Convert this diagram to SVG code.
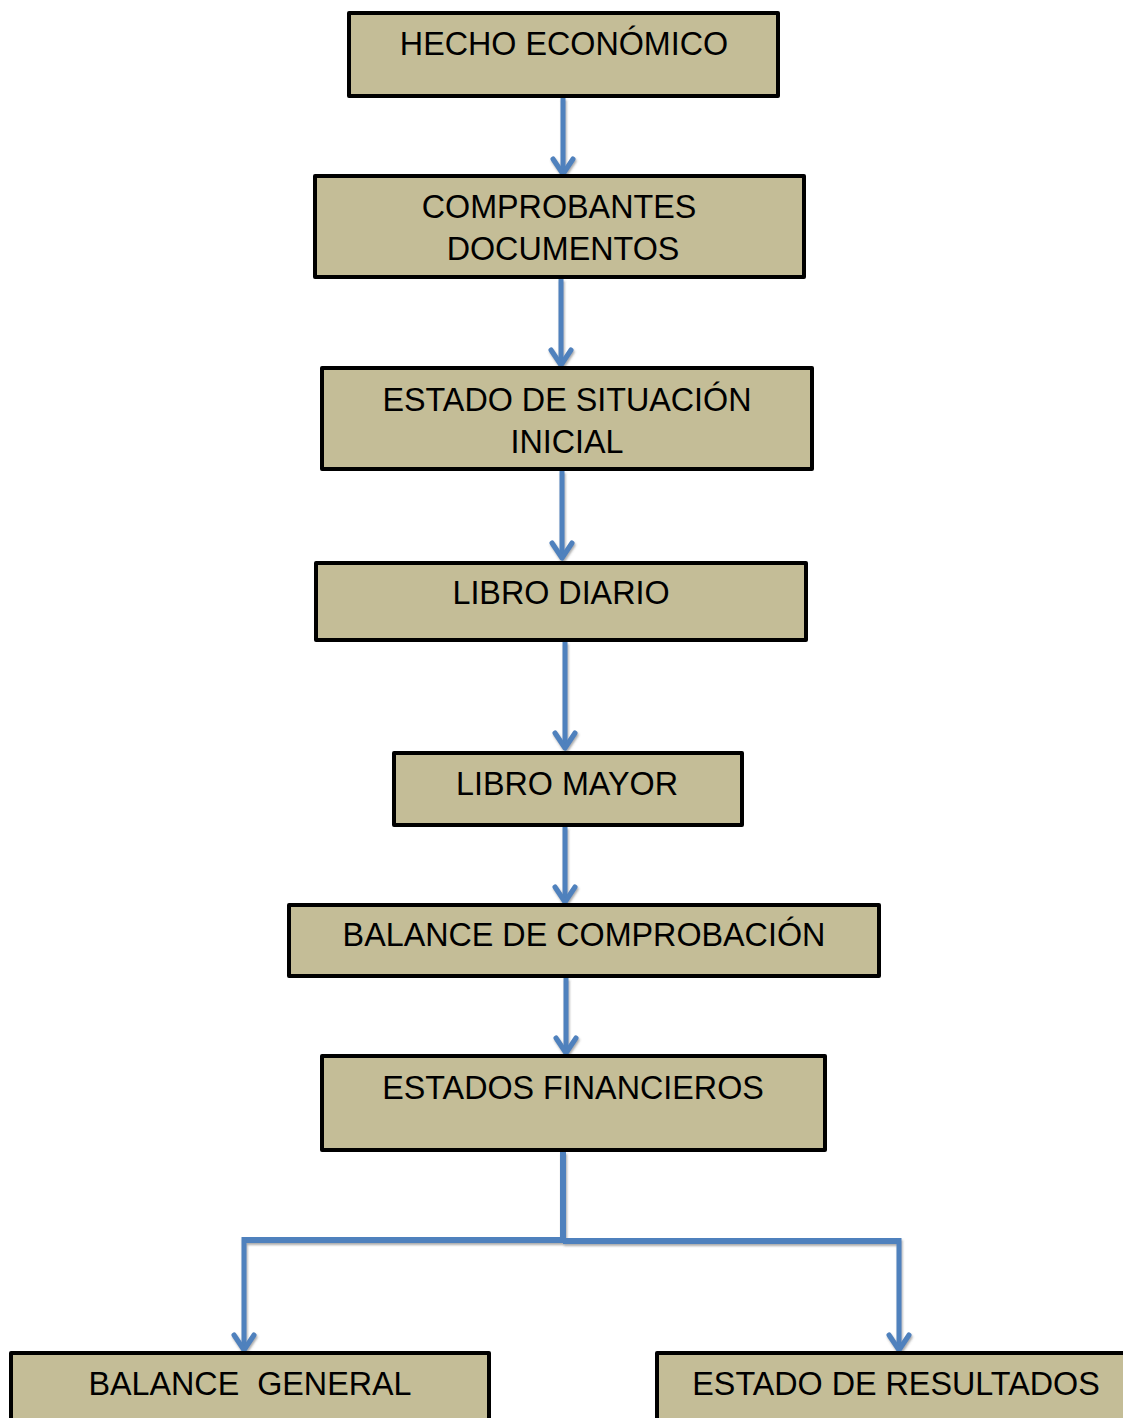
<svg xmlns="http://www.w3.org/2000/svg" width="1123" height="1418" viewBox="0 0 1123 1418">
<style>
.box{fill:#C4BD97;stroke:#000;stroke-width:4;stroke-linejoin:round}
.lbl{font-family:"Liberation Sans",Arial,sans-serif;font-size:32.3px;fill:#000;text-anchor:middle;white-space:pre}
.con{fill:none;stroke:#4F81BD;stroke-width:5}
.bus{fill:none;stroke:#4F81BD;stroke-width:6}
</style>
<defs>
<filter id="sh" x="-20%" y="-20%" width="140%" height="140%">
<feDropShadow dx="1" dy="2" stdDeviation="1" flood-color="#555" flood-opacity="0.5"/>
</filter>
<marker id="ah" markerUnits="userSpaceOnUse" viewBox="-22 -16 26 32" refX="0" refY="0" markerWidth="26" markerHeight="32" orient="auto" overflow="visible">
<path d="M-15,-10 L0,0 L-15,10" fill="none" stroke="#4F81BD" stroke-width="5" stroke-linecap="round" stroke-linejoin="round"/>
</marker>
</defs>
<rect width="1123" height="1418" fill="#fff"/>
<g id="connectors" filter="url(#sh)">
<line class="con" x1="563" y1="98" x2="563" y2="174" marker-end="url(#ah)"/>
<line class="con" x1="561" y1="279" x2="561" y2="365" marker-end="url(#ah)"/>
<line class="con" x1="562" y1="471" x2="562" y2="558" marker-end="url(#ah)"/>
<line class="con" x1="565" y1="642" x2="565" y2="748" marker-end="url(#ah)"/>
<line class="con" x1="565" y1="827" x2="565" y2="902" marker-end="url(#ah)"/>
<line class="con" x1="566" y1="978" x2="566" y2="1053" marker-end="url(#ah)"/>
<polyline class="bus" points="563,1152 563,1240"/>
<polyline class="bus" points="566,1240 244,1240"/>
<polyline class="bus" points="563,1241 899,1241"/>
<line class="con" x1="244" y1="1237" x2="244" y2="1350" marker-end="url(#ah)"/>
<line class="con" x1="899" y1="1238" x2="899" y2="1350" marker-end="url(#ah)"/>
</g>
<g id="n1"><rect class="box" x="349" y="13" width="429" height="83"/><text class="lbl" x="564" y="55">HECHO ECONÓMICO</text></g>
<g id="n2"><rect class="box" x="315" y="176" width="489" height="101"/><text class="lbl" x="559" y="218">COMPROBANTES</text><text class="lbl" x="563" y="260">DOCUMENTOS</text></g>
<g id="n3"><rect class="box" x="322" y="368" width="490" height="101"/><text class="lbl" x="567" y="411">ESTADO DE SITUACIÓN</text><text class="lbl" x="567" y="453">INICIAL</text></g>
<g id="n4"><rect class="box" x="316" y="563" width="490" height="77"/><text class="lbl" x="561" y="604">LIBRO DIARIO</text></g>
<g id="n5"><rect class="box" x="394" y="753" width="348" height="72"/><text class="lbl" x="567" y="795">LIBRO MAYOR</text></g>
<g id="n6"><rect class="box" x="289" y="905" width="590" height="71"/><text class="lbl" x="584" y="946">BALANCE DE COMPROBACIÓN</text></g>
<g id="n7"><rect class="box" x="322" y="1056" width="503" height="94"/><text class="lbl" x="573" y="1099">ESTADOS FINANCIEROS</text></g>
<g id="n8"><rect class="box" x="11" y="1353" width="478" height="80"/><text class="lbl" x="250" y="1395">BALANCE  GENERAL</text></g>
<g id="n9"><rect class="box" x="657" y="1353" width="480" height="80"/><text class="lbl" x="896" y="1395">ESTADO DE RESULTADOS</text></g>
</svg>
